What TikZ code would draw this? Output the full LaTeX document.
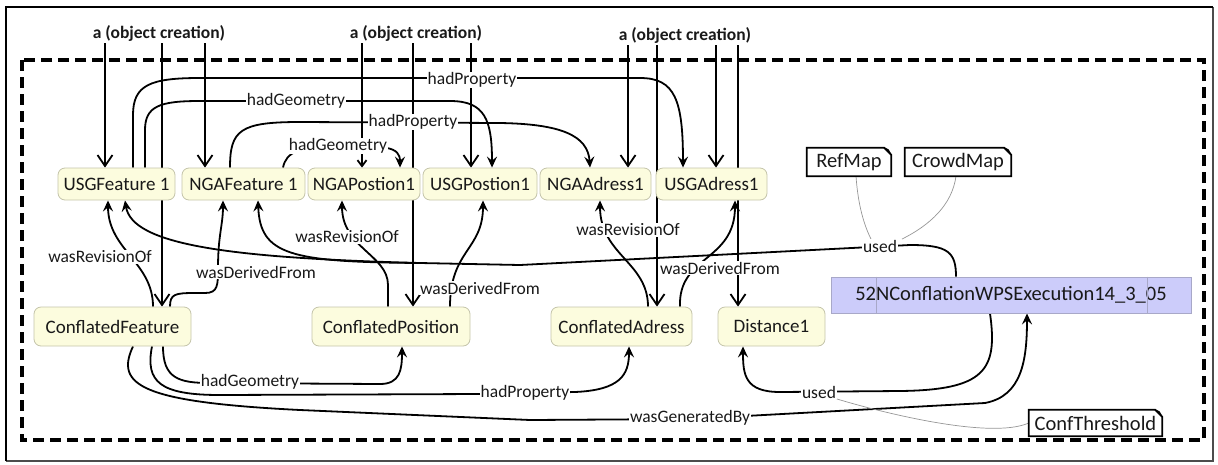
\documentclass[tikz,border=0pt]{standalone}
\usepackage{fontspec}
\setmainfont{Carlito}
\usetikzlibrary{arrows.meta}
\definecolor{entfill}{RGB}{252,252,222}
\definecolor{entline}{RGB}{196,196,170}
\definecolor{actfill}{RGB}{204,204,250}
\definecolor{actline}{RGB}{168,168,200}
\definecolor{linkgray}{RGB}{150,150,150}
\definecolor{ink}{RGB}{25,25,25}
\pgfdeclarelayer{wires}
\pgfsetlayers{wires,main}

\begin{document}
\begin{tikzpicture}[x=1pt,y=-1pt,
  entity/.style={draw=entline, line width=0.8pt, fill=entfill, rounded corners=7pt,
                 inner sep=0pt, font=\fontsize{19}{20}\selectfont, text=ink},
  activity/.style={draw=actline, line width=0.8pt, fill=actfill, inner sep=0pt,
                   font=\fontsize{20.5}{22}\selectfont, text=ink},
  notebox/.style={inner sep=0pt, font=\fontsize{20.5}{22}\selectfont, text=ink},
  noteline/.style={draw=black, line width=1.8pt, line join=miter},
  lbl/.style={fill=white, inner sep=0.6pt, font=\fontsize{17.5}{18}\selectfont, text=ink},
  creation/.style={inner sep=2pt, font=\bfseries\fontsize{17.5}{18}\selectfont, text=ink},
  rel/.style={draw=black, line width=1.8pt, -{Stealth[length=11pt,width=10pt,inset=4pt]}},
  relplain/.style={draw=black, line width=1.8pt},
  newobj/.style={draw=black, line width=1.8pt, -{Straight Barb[length=11pt,width=15pt]}},
  newobjsmall/.style={draw=black, line width=1.8pt, -{Straight Barb[length=6pt,width=9pt]}},
  notelink/.style={draw=linkgray, line width=0.7pt},
]
\useasboundingbox (0,0) rectangle (1218,464);

% frames
\begin{pgfonlayer}{wires}
  \draw[line width=1.4pt, black!70] (1213,7) -- (1213,461) -- (6,461);
  \draw[line width=2.4pt] (6,461) -- (6,7) -- (1213,7);
  \draw[line width=3.6pt, dash pattern=on 11pt off 6pt] (22,60) rectangle (1204,440);
\end{pgfonlayer}

% creation markers
\node[creation] (new1) at (159,33) {a (object creation)};
\node[creation] (new2) at (416,33) {a (object creation)};
\node[creation] (new3) at (685,35) {a (object creation)};

% source entities
\node[entity, minimum width=117pt, minimum height=32pt] (usgf) at (116.5,184) {USGFeature 1};
\node[entity, minimum width=123pt, minimum height=32pt] (ngaf) at (243.5,184) {NGAFeature 1};
\node[entity, minimum width=112pt, minimum height=32pt] (ngap) at (364,184) {NGAPostion1};
\node[entity, minimum width=114pt, minimum height=32pt] (usgp) at (480,184) {USGPostion1};
\node[entity, minimum width=111pt, minimum height=32pt] (ngaa) at (595.5,184) {NGAAdress1};
\node[entity, minimum width=111pt, minimum height=32pt] (usga) at (711.5,184) {USGAdress1};

% conflated entities
\node[entity, minimum width=157pt, minimum height=39pt] (cf) at (112.5,326.5) {ConflatedFeature};
\node[entity, minimum width=158pt, minimum height=39pt] (cp) at (391,326.5) {ConflatedPosition};
\node[entity, minimum width=141pt, minimum height=39pt] (ca) at (621.5,326.5) {ConflatedAdress};
\node[entity, minimum width=107pt, minimum height=39pt] (dist) at (771.5,326.5) {Distance1};

% process execution
\node[activity, minimum width=360pt, minimum height=36pt] (wps) at (1011,295) {52NConflationWPSExecution14\_3\_05};
\draw[actline, line width=0.8pt] (wps.north -| 876,0) -- (wps.south -| 876,0);
\draw[actline, line width=0.8pt] (wps.north -| 1147,0) -- (wps.south -| 1147,0);

% parameter notes
\node[notebox, minimum width=84pt, minimum height=28pt] (refmap) at (849,162) {RefMap};
\node[notebox, minimum width=106pt, minimum height=28pt] (crowd) at (958,162) {CrowdMap};
\node[notebox, minimum width=133pt, minimum height=26pt] (conft) at (1095.5,423) {ConfThreshold};
\foreach \n in {refmap,crowd,conft}{
  \draw[noteline] (\n.south west) -- (\n.north west) -- ([xshift=-7pt]\n.north east)
        -- ([yshift=-7pt]\n.north east) -- (\n.south east) -- cycle;
  \draw[line width=1.1pt] ([xshift=-7pt]\n.north east) -- ([xshift=-3pt,yshift=-2pt]\n.north east)
        -- ([yshift=-7pt]\n.north east);
}

% relation labels
\node[lbl] (l1) at (472,80) {hadProperty};
\node[lbl] (l2) at (296,101) {hadGeometry};
\node[lbl] (l3) at (413,122) {hadProperty};
\node[lbl] (l4) at (338,146) {hadGeometry};
\node[lbl] (l5) at (100,257) {wasRevisionOf};
\node[lbl] (l6) at (256,272) {wasDerivedFrom};
\node[lbl] (l7) at (880,246) {used};
\node[lbl] (l8) at (347,237) {wasRevisionOf};
\node[lbl] (l9) at (480,288) {wasDerivedFrom};
\node[lbl] (l10) at (628,230) {wasRevisionOf};
\node[lbl] (l11) at (720,268) {wasDerivedFrom};
\node[lbl] (l12) at (250,382) {hadGeometry};
\node[lbl] (l13) at (525,393) {hadProperty};
\node[lbl] (l14) at (690,418) {wasGeneratedBy};
\node[lbl] (l15) at (819,392) {used};

\begin{pgfonlayer}{wires}
  % object creation arrows
  \draw[newobj] (new1.south -| 105,0) -- (usgf.north -| 105,0);
  \draw[newobj] (new1.south -| 162,0) -- (cf.north -| 162,0);
  \draw[newobj] (new1.south -| 205,0) -- (ngaf.north -| 205,0);
  \draw[newobjsmall] (new2.south -| 362,0) -- (ngap.north -| 362,0);
  \draw[newobj] (new2.south -| 413,0) -- (cp.north -| 413,0);
  \draw[newobj] (new2.south -| 471,0) -- (usgp.north -| 471,0);
  \draw[newobj] (new3.south -| 628,0) -- (ngaa.north -| 628,0);
  \draw[newobj] (new3.south -| 657,0) -- (ca.north -| 657,0);
  \draw[newobj] (new3.south -| 716,0) -- (usga.north -| 716,0);
  \draw[newobj] (new3.south -| 738,0) -- (dist.north -| 738,0);

  % property and geometry links among sources
  \draw[rel] (usgf.north -| 133,0) -- (133,115) .. controls (133,85) and (150,78) .. (200,78)
        -- (640,78) .. controls (675,78) and (683,100) .. (usga.north -| 683,0);
  \draw[rel] (usgf.north -| 145,0) -- (145,130) .. controls (145,106) and (160,101) .. (200,101)
        -- (450,101) .. controls (485,101) and (492,120) .. (usgp.north -| 492,0);
  \draw[rel] (ngaf.north -| 230,0) .. controls (230,130) and (240,122) .. (300,122)
        -- (500,123) .. controls (560,124) and (588,135) .. (ngaa.north -| 590,0);
  \draw[rel] (ngaf.north -| 283,0) .. controls (286,152) and (300,146) .. (338,146)
        .. controls (385,146) and (400,146) .. (ngap.north -| 400,0);

  % revision and derivation links
  \draw[rel] (cf.north -| 153,0) .. controls (153,262) and (108,250) .. (usgf.south -| 108,0);
  \draw[rel] (cf.north -| 170,0) .. controls (170,294) and (175,293) .. (195,293) -- (205,293)
        .. controls (218,293) and (218,285) .. (218,268) .. controls (218,235) and (223,225) .. (ngaf.south -| 223,0);
  \draw[rel] (cp.north -| 388,0) -- (388,285) .. controls (388,255) and (342,248) .. (ngap.south -| 342,0);
  \draw[rel] (cp.north -| 450,0) .. controls (450,250) and (483,250) .. (usgp.south -| 483,0);
  \draw[rel] (ca.north -| 648,0) .. controls (648,262) and (600,255) .. (ngaa.south -| 600,0);
  \draw[rel] (ca.north -| 680,0) .. controls (678,255) and (735,262) .. (usga.south -| 735,0);

  % inputs used by the execution
  \coordinate (usedjoin) at (420,263);
  \draw[relplain] (wps.north -| 956,0) .. controls (956,252) and (948,245) .. (910,245)
        -- (520,265) -- (usedjoin);
  \draw[rel] (usedjoin) .. controls (230,258) and (132,245) .. (usgf.south -| 125,0);
  \draw[rel] (usedjoin) .. controls (290,262) and (260,255) .. (ngaf.south -| 258,0);
  \draw[rel] (wps.south -| 990,0) .. controls (998,370) and (985,390) .. (900,391)
        -- (780,392) .. controls (745,392) and (743,375) .. (dist.south -| 743,0);

  % links from the conflated feature
  \draw[rel] (cf.south -| 163,0) .. controls (163,378) and (178,383) .. (210,383)
        -- (380,384) .. controls (400,384) and (402,370) .. (cp.south -| 402,0);
  \draw[rel] (cf.south -| 152,0) .. controls (145,382) and (160,395) .. (220,395)
        -- (480,394) -- (575,392) .. controls (620,390) and (629,375) .. (ca.south -| 629,0);
  \draw[rel] (cf.south -| 133,0) .. controls (115,385) and (140,402) .. (300,410)
        -- (530,420) -- (690,419) -- (985,403) .. controls (1022,396) and (1027,360) .. (wps.south -| 1027,0);

  % parameter notes attached to the usage labels
  \draw[notelink] (refmap.south -| 856,0) .. controls (858,205) and (864,225) .. ([xshift=-9pt]l7.north);
  \draw[notelink] (crowd.south -| 956,0) .. controls (952,205) and (930,225) .. ([xshift=22pt]l7.north);
  \draw[notelink] (conft.west) .. controls (990,440) and (880,412) .. (l15.south east);
\end{pgfonlayer}
\end{tikzpicture}
\end{document}
